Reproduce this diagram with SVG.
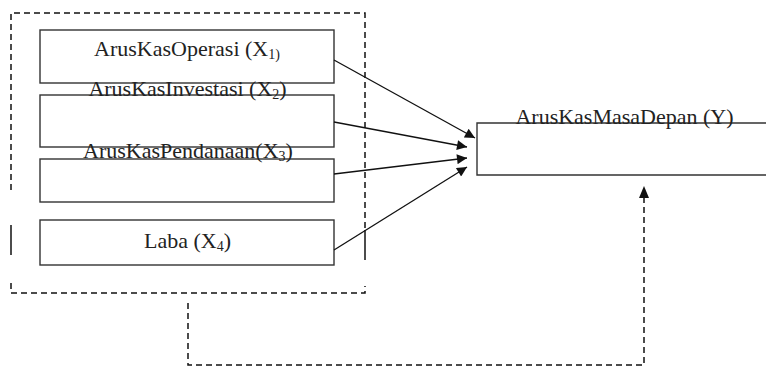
<svg xmlns="http://www.w3.org/2000/svg" width="766" height="368" viewBox="0 0 766 368">
<style>
.box{fill:#fff;stroke:#333;stroke-width:1.4}
.lbl{font-family:'Liberation Serif','Tinos','Times New Roman','Noto Serif','DejaVu Serif',serif;font-size:22px;fill:#222;text-anchor:middle}
.sub{font-size:14px}
.dash{fill:none;stroke:#111;stroke-width:1.5;stroke-dasharray:6 4}
.solid{fill:none;stroke:#111;stroke-width:1.5}
.arr{fill:none;stroke:#111;stroke-width:1.3;marker-end:url(#ah)}
</style>
<defs>
<marker id="ah" viewBox="0 0 10 10" refX="10" refY="5" markerWidth="13" markerHeight="10" markerUnits="userSpaceOnUse" orient="auto">
<path d="M0,0 L10,5 L0,10 Z" fill="#111"/>
</marker>
</defs>
<g id="frame">
<path class="dash" d="M11,20 V13 H365 V230"/>
<path class="dash" d="M11,24 V190"/>
<path class="solid" d="M11,225 V255"/>
<path class="solid" d="M365,230 V260"/>
<path class="dash" d="M11,283 V293 H365 V286"/>
</g>
<g id="x1">
<rect class="box" x="40" y="30" width="294" height="53"/>
<text class="lbl" x="187" y="56">ArusKasOperasi (X<tspan class="sub" dy="3">1)</tspan></text>
</g>
<g id="x2">
<rect class="box" x="40" y="95" width="294" height="52"/>
<text class="lbl" x="187.5" y="96">ArusKasInvestasi (X<tspan class="sub" dy="3">2</tspan><tspan dy="-3">)</tspan></text>
</g>
<g id="x3">
<rect class="box" x="40" y="159" width="294" height="43"/>
<text class="lbl" x="188" y="158">ArusKasPendanaan(X<tspan class="sub" dy="3">3</tspan><tspan dy="-3">)</tspan></text>
</g>
<g id="x4">
<rect class="box" x="40" y="220" width="294" height="45"/>
<text class="lbl" x="187.5" y="248">Laba (X<tspan class="sub" dy="3">4</tspan><tspan dy="-3">)</tspan></text>
</g>
<g id="y">
<path class="box" d="M766,123 H477 V175 H766"/>
<text class="lbl" x="624.5" y="124">ArusKasMasaDepan (Y)</text>
</g>
<g id="connectors">
<line class="arr" x1="334" y1="60" x2="475" y2="138"/>
<line class="arr" x1="334" y1="122" x2="467" y2="147"/>
<line class="arr" x1="334" y1="174" x2="467" y2="158"/>
<line class="arr" x1="334" y1="250" x2="467" y2="167"/>
<path class="dash" d="M188,303 V365 H644 V196"/>
<path d="M639,198 L644,186 L649,198 Z" fill="#111"/>
</g>
</svg>
